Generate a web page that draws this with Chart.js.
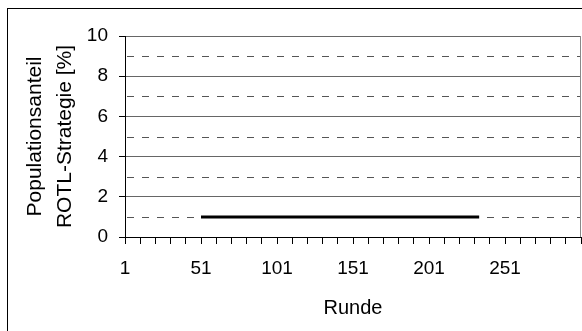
<!DOCTYPE html>
<html>
<head>
<meta charset="utf-8">
<script src="https://cdn.jsdelivr.net/npm/chart.js@4/dist/chart.umd.min.js"></script>
<style>
    html, body { margin: 0; padding: 0; background: #fff; overflow: hidden; }
    #wrap { position: relative; width: 582px; height: 331px; }
    #frame {
        position: absolute; left: 7px; top: 8px; width: 700px; height: 500px;
        border-left: 1px solid #000; border-top: 1px solid #000;
    }
    #chart { position: absolute; left: 0; top: 0; }
</style>
</head>
<body>
<div id="wrap">
    <div id="frame"></div>
    <canvas id="chart" width="582" height="331"></canvas>
</div>
<script>
// Data
const runde = [51, 234];           // x: Runde (start / end of the line)
const anteil = [1, 1];             // y: Populationsanteil ROTL-Strategie [%]

const xTickValues = [1, 11, 21, 31, 41, 51, 61, 71, 81, 91, 101, 111, 121, 131, 141, 151,
                     161, 171, 181, 191, 201, 211, 221, 231, 241, 251, 261, 271, 281, 291, 301];
const xTickLabels = ['1', '51', '101', '151', '201', '251'];
const yMajor = [0, 2, 4, 6, 8, 10];   // labelled, solid grid lines
const yMinor = [1, 3, 5, 7, 9];       // dashed grid lines

const FONT = "'Liberation Sans', Arial, sans-serif";

// dashed minor lines + right edge of the plot area
const minorGrid = {
    id: 'minorGrid',
    beforeDatasetsDraw(chart) {
        const { ctx, chartArea, scales } = chart;
        ctx.save();
        ctx.lineWidth = 1;
        ctx.strokeStyle = '#555';
        ctx.setLineDash([7, 8]);
        yMinor.forEach(v => {
            const y = Math.round(scales.y.getPixelForValue(v)) + 0.5;
            ctx.beginPath();
            ctx.moveTo(chartArea.left + 2, y);
            ctx.lineTo(chartArea.right, y);
            ctx.stroke();
        });
        ctx.setLineDash([]);
        ctx.strokeStyle = '#888';
        const x = Math.round(chartArea.right) - 0.5;
        ctx.beginPath();
        ctx.moveTo(x, chartArea.top);
        ctx.lineTo(x, chartArea.bottom);
        ctx.stroke();
        ctx.restore();
    }
};

const points = runde.map((r, i) => ({ x: r, y: anteil[i] }));

new Chart(document.getElementById('chart'), {
    type: 'line',
    data: {
        datasets: [{
            label: 'ROTL',
            data: points,
            borderColor: '#000',
            borderWidth: 3,
            pointRadius: 0,
            fill: false,
            tension: 0
        }]
    },
    options: {
        responsive: false,
        animation: false,
        layout: { padding: { left: 0, top: 36, right: 1, bottom: 0 } },
        plugins: {
            legend: { display: false },
            tooltip: { enabled: false }
        },
        scales: {
            x: {
                type: 'linear',
                min: 1,
                max: 301,
                afterBuildTicks: scale => {
                    scale.ticks = xTickValues.map(v => ({ value: v }));
                },
                afterFit: scale => {
                    scale.height = 94;
                    scale.paddingLeft = 0;
                    scale.paddingRight = 0;
                },
                border: { color: '#000', width: 1 },
                grid: {
                    drawOnChartArea: false,
                    drawTicks: true,
                    tickLength: 7,
                    tickColor: '#000'
                },
                ticks: {
                    autoSkip: false,
                    maxRotation: 0,
                    padding: 13,
                    color: '#000',
                    font: { family: FONT, size: 19 },
                    callback: v => xTickLabels.includes(String(v)) ? String(v) : ''
                },
                title: {
                    display: true,
                    text: 'Runde',
                    color: '#000',
                    font: { family: FONT, size: 20 },
                    padding: { top: 0, bottom: 11 }
                }
            },
            y: {
                min: 0,
                max: 10,
                afterFit: scale => {
                    scale.width = 125;
                    scale.paddingTop = 0;
                    scale.paddingBottom = 0;
                },
                border: { color: '#000', width: 1 },
                grid: {
                    drawTicks: true,
                    tickLength: 6,
                    color: ctx => (yMajor.includes(ctx.tick.value) && ctx.tick.value !== 0) ? '#666' : 'rgba(0,0,0,0)',
                    tickColor: ctx => yMajor.includes(ctx.tick.value) ? '#000' : 'rgba(0,0,0,0)'
                },
                ticks: {
                    stepSize: 1,
                    padding: 11,
                    color: '#000',
                    font: { family: FONT, size: 19 },
                    callback: v => yMajor.includes(v) ? String(v) : ''
                },
                title: {
                    display: true,
                    text: ['Populationsanteil', 'ROTL-Strategie [%]'],
                    color: '#000',
                    font: { family: FONT, size: 21, lineHeight: 1.43 },
                    padding: { top: 20, bottom: 0 }
                }
            }
        }
    },
    plugins: [minorGrid]
});
</script>
</body>
</html>
